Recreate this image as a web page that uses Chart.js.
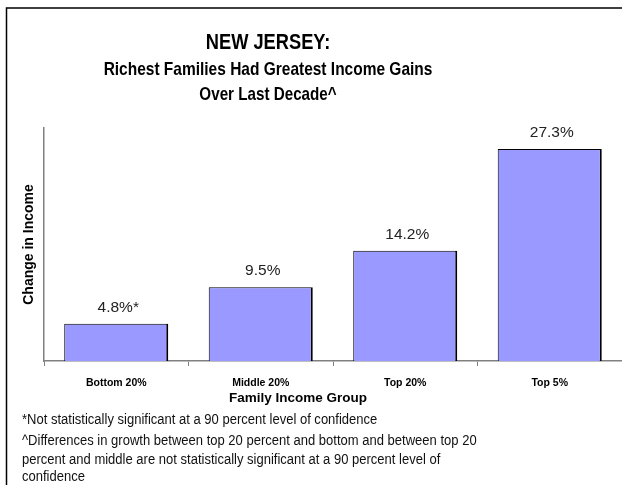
<!DOCTYPE html>
<html>
<head>
<meta charset="utf-8">
<script src="https://cdn.jsdelivr.net/npm/chart.js@4/dist/chart.umd.min.js"></script>
<style>
  html, body { margin: 0; padding: 0; background: #fff; }
  #wrap { width: 622px; height: 485px; position: relative; }
</style>
</head>
<body>
<div id="wrap"><canvas id="myChart" width="622" height="485"></canvas></div>
<script>
(() => {
    'use strict';

    // data
    const groups = ['Bottom 20%', 'Middle 20%', 'Top 20%', 'Top 5%']
    const incomeChange = [4.8, 9.5, 14.2, 27.3]
    const valueLabels = ['4.8%*', '9.5%', '14.2%', '27.3%']

    const titleLines = ['NEW JERSEY:', 'Richest Families Had Greatest Income Gains', 'Over Last Decade^']
    const xTitle = 'Family Income Group'
    const yTitle = 'Change in Income'
    const footnotes = [
        '*Not statistically significant at a 90 percent level of confidence',
        '^Differences in growth between top 20 percent and bottom and between top 20',
        'percent and middle are not statistically significant at a 90 percent level of',
        'confidence'
    ]

    const sans = '"Liberation Sans", Arial, sans-serif'

    // 横方向に詰めて描く (narrow font の代わり)
    const squeezed = (c, text, x, y, sx) => {
        c.save()
        c.translate(x, y)
        c.scale(sx, 1)
        c.fillText(text, 0, 0)
        c.restore()
    }

    const decorations = {
        id: 'decorations',
        beforeDraw(chart) {
            const c = chart.ctx
            c.save()
            c.strokeStyle = '#000'
            c.lineWidth = 1.5
            c.strokeRect(6.5, 8, 700, 700)
            c.restore()
        },
        afterDraw(chart) {
            const c = chart.ctx
            c.save()
            c.fillStyle = '#000'
            c.textAlign = 'center'
            c.textBaseline = 'middle'
            c.font = `bold 22px ${sans}`
            squeezed(c, titleLines[0], 268, 43, 0.83)
            c.font = `bold 19px ${sans}`
            squeezed(c, titleLines[1], 268, 70, 0.815)
            squeezed(c, titleLines[2], 268, 95, 0.8)

            c.font = `bold 13.5px ${sans}`
            c.fillText(xTitle, 298, 398)

            c.textAlign = 'left'
            c.fillStyle = '#111'
            c.font = `14px ${sans}`
            const ys = [420, 441, 460, 477]
            footnotes.forEach((t, i) => squeezed(c, t, 22, ys[i], 0.93))

            // bar value labels
            const meta = chart.getDatasetMeta(0)
            c.textAlign = 'center'
            c.textBaseline = 'alphabetic'
            c.fillStyle = '#222'
            c.font = `15.5px ${sans}`
            meta.data.forEach((bar, i) => {
                c.fillText(valueLabels[i], bar.x + 2, bar.y - 12)
            })
            c.restore()
        }
    }

    const chart = new Chart(document.getElementById('myChart'), {
        type: 'bar',
        data: {
            labels: groups,
            datasets: [{
                data: incomeChange,
                backgroundColor: '#9999ff',
                borderColor: '#000',
                borderWidth: { top: 1, left: 1, right: 2, bottom: 0 },
                borderSkipped: false,
                barPercentage: 0.72,
                categoryPercentage: 1
            }]
        },
        options: {
            responsive: false,
            animation: false,
            layout: { padding: { top: 128, left: 0, right: 0, bottom: 80 } },
            plugins: {
                legend: { display: false },
                tooltip: { enabled: false }
            },
            scales: {
                x: {
                    grid: {
                        display: true,
                        drawOnChartArea: false,
                        drawTicks: true,
                        tickLength: 5,
                        color: '#808080',
                        offset: true
                    },
                    border: { display: true, color: '#808080', width: 1.5 },
                    ticks: {
                        color: '#000',
                        padding: 11,
                        font: { family: sans, size: 10.5, weight: 'bold' },
                        maxRotation: 0
                    },
                    afterFit(scale) { scale.height = 44 }
                },
                y: {
                    min: 0,
                    max: 30,
                    grid: { display: false },
                    border: { display: true, color: '#808080', width: 1.5 },
                    ticks: { display: false },
                    title: {
                        display: true,
                        text: yTitle,
                        color: '#000',
                        padding: { top: 21, bottom: 0 },
                        font: { family: sans, size: 14, weight: 'bold' }
                    },
                    afterFit(scale) { scale.width = 44 }
                }
            }
        },
        plugins: [decorations]
    })
})();
</script>
</body>
</html>
